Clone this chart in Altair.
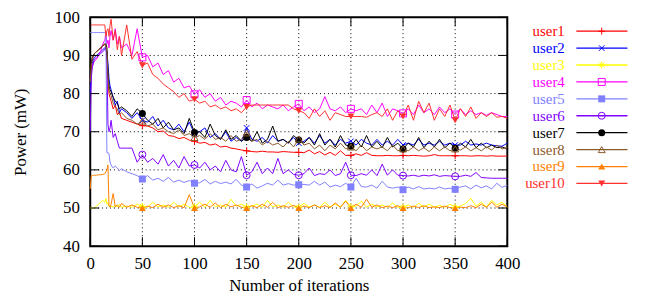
import altair as alt
import pandas as pd

USERS = ["user1", "user2", "user3", "user4", "user5",
         "user6", "user7", "user8", "user9", "user10"]

ITERATIONS = [0, 1, 2, 3, 4, 6, 8, 10, 12, 14, 15, 16, 17, 18, 19, 20, 22, 24, 26, 28, 30] + list(range(35, 401, 5))

USER1 = [84, 88, 89, 90, 90.5, 91, 91.5, 92, 92.5, 93, 92, 91, 84, 80, 79, 78, 76, 77, 74.5, 75, 73.5,
         73, 72.5, 72, 71.6,
         71.5, 71, 70, 70.2, 69, 68.8, 68.2, 68.5, 67.8, 67.5,
         67, 67.2, 66.5, 66.8, 66, 66.2, 65.7, 65.5, 65.2, 65,
         64.8, 64.7, 64.9, 64.7, 64.7, 64.6, 64.8, 64.7, 64.6, 64.6,
         64.5, 65.2, 64.2, 64.8, 63.9, 64.6, 63.8, 65, 63.8, 63.8,
         64.2, 63.8, 64.5, 63.8, 63.7, 63.7, 63.8, 63.7, 63.7, 63.8,
         63.7, 63.8, 63.7, 63.6, 63.7, 64, 63.7, 63.7, 63.7, 63.7,
         63.7, 63.7, 63.6, 63.7, 63.7, 63.6, 63.7, 63.6, 63.6, 63.6]

USER2 = [80, 85, 88, 89, 89.5, 90, 90.5, 91, 91.5, 92, 92, 91, 88, 84, 82, 81, 79, 77, 78, 75, 76,
         75, 73.5, 75, 73,
         72.5, 74, 71.5, 73, 71, 70.5, 72, 70, 72.5, 69.5,
         70, 71, 68.5, 69.5, 68, 70, 67.5, 68.5, 67.5, 71,
         68, 67.5, 68.5, 67, 69, 67.5, 68, 67, 68.5, 67,
         67.5, 68.5, 67, 69, 67, 68, 66.5, 68, 67, 67.5,
         66.5, 68, 67, 66.5, 68, 66.5, 67.5, 66.5, 68, 66.5,
         67, 66.5, 68, 66.5, 67, 66.5, 67.5, 66.5, 67, 66.5,
         66.5, 67.5, 66.5, 66.8, 66.5, 67, 66.5, 66.3, 66.2, 67]

USER3 = [50, 50, 50, 50, 50, 50.5, 51, 51.5, 52, 51.5, 52.5, 51, 51.5, 50.5, 50.3, 50.5, 50.2, 50.8, 50.3, 51, 50.2,
         50.5, 50.2, 51, 50.4,
         50.2, 51.5, 50.3, 50.8, 50.2, 51.5, 50.3, 51, 50.2, 50.3,
         51.5, 50.2, 52, 50.3, 50.8, 50.2, 52.3, 50.5, 51, 50.2,
         50.5, 51, 50.2, 52, 50.3, 50.8, 50.2, 51.5, 50.3, 50.2,
         51.2, 50.3, 50.8, 50.2, 51.5, 50.3, 51, 50.2, 52, 50.3,
         50.5, 51.8, 50.2, 51, 50.3, 50.8, 50.2, 51.3, 50.2, 50.2,
         50.8, 50.2, 51.2, 50.3, 51, 50.2, 50.7, 50.2, 51, 50.2,
         50.5, 51.2, 52.5, 50.5, 51.5, 50.3, 52, 50.8, 51.5, 50.3]

USER4 = [84, 86, 87, 88, 88.5, 89, 90, 91, 93, 94, 96, 93, 94, 92, 95, 96.5, 94, 97, 93, 95, 92,
         93, 90, 97, 89.5,
         90, 87, 88, 85, 86, 83, 84, 81.5, 82, 79.8,
         81, 79, 80, 78, 79, 77, 78, 77.5, 76.5, 78.3,
         76.5, 77.5, 76, 77, 76.5, 76, 77, 75.5, 76.5, 77.3,
         75.5, 76.5, 75, 76, 79.2, 76, 75.5, 76.5, 75, 76,
         75.5, 76, 74.5, 77, 75, 77.5, 74, 76, 75.5, 74.8,
         76, 74.5, 77, 75, 76, 74.5, 76.5, 75, 76, 74.5,
         76, 74.5, 75.5, 74.5, 75, 74.3, 75, 74.5, 74, 74]

USER5 = [96, 96, 96, 96, 96, 96, 96, 96, 96, 96, 96, 64.5, 64.5, 64.3, 62, 61.3, 60.5, 61, 60.5, 59.8, 60.3,
         59.5, 59, 58.5, 57.6,
         58.5, 57.3, 57.8, 57, 58, 56.8, 57.3, 56.7, 57.2, 56.5,
         56.6, 57.5, 56.3, 57, 56.4, 56.8, 56.3, 57.5, 56, 55.5,
         56.3, 55.2, 55.8, 56.5, 56, 57.3, 56, 56.4, 56, 56.1,
         56.2, 56, 57, 56, 56.8, 55.5, 56, 55.6, 56.5, 55.5,
         57.8, 55.6, 55.5, 56, 55.2, 57, 55.5, 55.2, 55.5, 54.8,
         55.5, 55, 55.6, 55, 55.2, 55, 55.5, 55, 55.2, 54.9,
         55.5, 55.8, 55, 56, 55.3, 55.8, 55, 56.5, 55.4, 56]

USER6 = [70, 84, 87, 88, 89, 89.5, 90, 90.5, 91, 91.5, 92, 90, 72, 70, 71, 73, 68.5, 69.5, 67.5, 65.7, 65.7,
         65.7, 65.7, 62, 64,
         62, 63, 61.5, 64, 61, 62.5, 60.5, 63.5, 61, 61.3,
         60.5, 62, 60, 61, 59.5, 62.5, 60, 59.5, 63.5, 58.6,
         59.5, 62, 59, 60.5, 59, 63, 59, 60, 58.8, 58.6,
         59, 60.5, 58.5, 59, 58.8, 60, 58.5, 59, 62, 58.6,
         58.5, 59, 58.6, 60, 58.5, 61.5, 58.6, 60, 58.6, 58.5,
         58.4, 58.6, 58.3, 58.6, 58.4, 58.7, 58.3, 58.5, 58.4, 58.3,
         58.3, 58.6, 58.3, 59.3, 58, 57.9, 57.8, 57.8, 57.8, 57.8]

USER7 = [84, 88, 89.5, 90, 90.5, 91, 91.5, 92, 92.5, 93, 93, 92, 86, 82, 81, 80.5, 79, 78, 77.5, 76, 76.5,
         75.5, 74, 76, 74.8,
         73, 72, 73.5, 71, 72.5, 70.5, 71, 69.5, 73.5, 69.8,
         70, 68.5, 72, 69, 68, 70.5, 68, 69, 67.5, 68.5,
         67.5, 70, 67, 68, 71.5, 67.5, 68, 67, 69, 67.8,
         67, 68.5, 66.5, 69.5, 66.5, 68, 66, 69, 66.5, 66.2,
         68, 66, 69, 66, 67.5, 65.8, 68.5, 66, 67, 65.5,
         67, 66, 68.5, 65.8, 67.5, 66, 68, 65.8, 67, 65.7,
         67, 66, 68, 65.8, 67, 65.8, 66.5, 65.8, 66, 65.5]

USER8 = [83, 87, 89, 90, 90.5, 91, 91.5, 92, 92.5, 93, 92.5, 91, 85, 81, 80, 79.5, 77.5, 76.5, 76, 74.5, 75,
         73.5, 73, 72, 72.8,
         71.5, 72, 70.5, 71, 70, 69.5, 70.5, 69, 69.5, 68.5,
         69, 68, 69.5, 68, 68.5, 67.5, 69, 67.5, 68, 69.7,
         67.5, 68, 66.5, 67.5, 66.5, 67, 66, 67.5, 66, 68.1,
         66.5, 67, 65.5, 66.5, 65, 66.5, 65.5, 67, 65.5, 66,
         65, 66.5, 65, 66, 65.5, 66, 65, 66.5, 65, 65.5,
         65, 66, 65, 65.8, 64.8, 66, 65, 66, 65, 65.5,
         65.2, 66, 65, 65.8, 65, 66, 65.2, 66.5, 65.5, 65.8]

USER9 = [55, 58.5, 58.5, 58.5, 58.6, 58.6, 58.7, 58.7, 58.8, 59, 59.5, 60, 61.3, 50.5, 50.2, 51, 53.8, 50.3, 50.8, 50.2, 51.2,
         50.2, 50.8, 50.2, 50,
         50.5, 50.1, 51, 50.2, 50.8, 50.1, 50.6, 50.1, 53.5, 50,
         50.3, 51, 50.2, 51.3, 50.1, 51, 50.3, 50.8, 50.2, 50,
         50.6, 50.1, 51, 50.2, 51.5, 50.1, 50.6, 50.2, 50.7, 50,
         50.5, 50.1, 50.8, 50.1, 50.6, 50.1, 51.3, 50.2, 51.8, 50,
         51, 50.2, 52.3, 50.2, 50.8, 50.1, 50.5, 50.1, 50.6, 50,
         50.1, 50.5, 50.1, 50.6, 50.1, 50.3, 50.1, 50.5, 50.1, 50,
         50.2, 50.1, 50.6, 50.1, 51, 50.2, 51.5, 50.2, 51, 50.2]

USER10 = [98, 98, 98, 98, 98, 98, 98, 98, 98, 98, 95, 96.5, 97, 95, 98, 99.5, 94, 96.5, 91.5, 95, 90,
          98, 89, 91, 87.4,
          88, 85, 84, 82.5, 81.5, 80.5, 79, 80, 78, 78.5,
          77.5, 78, 76.5, 77, 76, 76.5, 75.5, 76, 75, 76.5,
          77, 77, 77, 77, 77, 77, 77, 77, 76, 75.5,
          75, 73.5, 76, 74, 75.5, 73, 75, 74.5, 74, 74,
          74, 74, 73.8, 74.5, 75, 74, 76, 73, 75.5, 74,
          77, 73, 78, 75, 77.5, 73, 76, 74, 77, 73,
          76, 74, 76.5, 73.5, 75, 74, 75, 73.8, 74, 73.5]

SERIES = [USER1, USER2, USER3, USER4, USER5, USER6, USER7, USER8, USER9, USER10]

X_TICKS = [0, 50, 100, 150, 200, 250, 300, 350, 400]
Y_TICKS = [40, 50, 60, 70, 80, 90, 100]
MARKER_ITERS = [50, 100, 150, 200, 250, 300, 350]

COLORS = ["#ff0000", "#0000ff", "#ffff00", "#ff00ff", "#8080ff",
          "#8000ff", "#000000", "#8b5a2b", "#ff8000", "#ff3030"]

PLUS = "M-1,0L1,0M0,-1L0,1"
CROSS = "M-0.8,-0.8L0.8,0.8M-0.8,0.8L0.8,-0.8"
STAR = "M-1,0L1,0M0,-1L0,1M-0.7,-0.7L0.7,0.7M-0.7,0.7L0.7,-0.7"
MARKERS = [(PLUS, False), (CROSS, False), (STAR, False), ("square", False), ("square", True),
           ("circle", False), ("circle", True), ("triangle-up", False), ("triangle-up", True),
           ("triangle-down", True)]

rows = []
for u, vals in zip(USERS, SERIES):
    assert len(vals) == len(ITERATIONS), (u, len(vals))
    for it, v in zip(ITERATIONS, vals):
        rows.append({"user": u, "iter": it, "power": v})
df = pd.DataFrame(rows)

W, H = 421, 231
PAD_TOP = 8
FONT = "Liberation Serif"
FS = 17

xs = alt.Scale(domain=[0, 400], nice=False, zero=False)
ys = alt.Scale(domain=[40, 100], nice=False, zero=False)
cs = alt.Scale(domain=USERS, range=COLORS)

axis_common = dict(grid=False, ticks=False, domain=False, labelFlush=False,
                   labelFont=FONT, labelFontSize=FS, labelColor="black",
                   titleFont=FONT, titleFontSize=FS, titleFontWeight="normal", titleColor="black")
x_axis = alt.Axis(title="Number of iterations", values=X_TICKS, labelPadding=10, titlePadding=6, **axis_common)
y_axis = alt.Axis(title="Power (mW)", values=Y_TICKS, labelPadding=11, titlePadding=25, **axis_common)

X = alt.X("iter:Q", scale=xs, axis=x_axis)
Y = alt.Y("power:Q", scale=ys, axis=y_axis)

# dotted grid (drawn first, behind the data)
gy = pd.DataFrame({"power": Y_TICKS[1:-1]})
gx = pd.DataFrame({"iter": X_TICKS[1:-1]})
layers = [
    alt.Chart(gy).mark_rule(color="black", strokeWidth=1, strokeDash=[1, 3]).encode(
        y=Y, x=alt.value(0), x2=alt.value(W)),
    alt.Chart(gx).mark_rule(color="black", strokeWidth=1, strokeDash=[1, 3]).encode(
        x=X, y=alt.value(0), y2=alt.value(H)),
]

lines = alt.Chart(df).mark_line(strokeWidth=1, strokeJoin="round").encode(
    x=X, y=Y, color=alt.Color("user:N", scale=cs, legend=None),
)
layers.append(lines)
for u, col, (shape, filled) in zip(USERS, COLORS, MARKERS):
    layers.append(alt.Chart(df).transform_filter(
        alt.FieldEqualPredicate(field="user", equal=u)
    ).transform_filter(
        alt.FieldOneOfPredicate(field="iter", oneOf=MARKER_ITERS)
    ).mark_point(shape=shape, filled=filled, color=col, size=50, strokeWidth=1, opacity=1).encode(x=X, y=Y))

# gnuplot-style inward ticks on all four sides
yedge = pd.DataFrame({"power": Y_TICKS})
xedge = pd.DataFrame({"iter": X_TICKS})
TL = 9
layers += [
    alt.Chart(yedge).mark_rule(color="black", strokeWidth=1).encode(y=Y, x=alt.value(0), x2=alt.value(TL)),
    alt.Chart(yedge).mark_rule(color="black", strokeWidth=1).encode(y=Y, x=alt.value(W - TL), x2=alt.value(W)),
    alt.Chart(xedge).mark_rule(color="black", strokeWidth=1).encode(x=X, y=alt.value(H), y2=alt.value(H - TL)),
    alt.Chart(xedge).mark_rule(color="black", strokeWidth=1).encode(x=X, y=alt.value(0), y2=alt.value(TL)),
]

# legend (gnuplot style: label, then line sample with marker), rows placed by an offset scale
LFS = 15
top_page = 8 + PAD_TOP
ldf = pd.DataFrame({"user": USERS})
leg_off = alt.YOffset("user:N", scale=alt.Scale(type="point", domain=USERS,
                                                range=[30 - top_page, 183.7 - top_page], padding=0))
leg_c = alt.Color("user:N", scale=cs, legend=None)
layers += [
    alt.Chart(ldf).mark_text(align="right", baseline="middle", font=FONT, fontSize=LFS).encode(
        y=alt.value(0), yOffset=leg_off, x=alt.value(479), text="user:N", color=leg_c),
    alt.Chart(ldf).mark_rule(strokeWidth=1.3).encode(
        y=alt.value(0), yOffset=leg_off, x=alt.value(490.7), x2=alt.value(542.3), color=leg_c),
]
for u, col, (shape, filled) in zip(USERS, COLORS, MARKERS):
    layers.append(
        alt.Chart(ldf).transform_filter(alt.FieldEqualPredicate(field="user", equal=u)).mark_point(
            shape=shape, filled=filled, color=col, size=50, strokeWidth=1, opacity=1).encode(
            y=alt.value(0), yOffset=leg_off, x=alt.value(516.3)))

chart = alt.layer(*layers).properties(
    width=W, height=H,
    autosize=alt.AutoSizeParams(type="none"),
    padding={"left": 83, "top": PAD_TOP, "right": 140, "bottom": 57},
    background="white",
).configure_view(stroke="black", strokeWidth=2)

chart.save("out.html", embed_options={"renderer": "svg", "actions": False})
